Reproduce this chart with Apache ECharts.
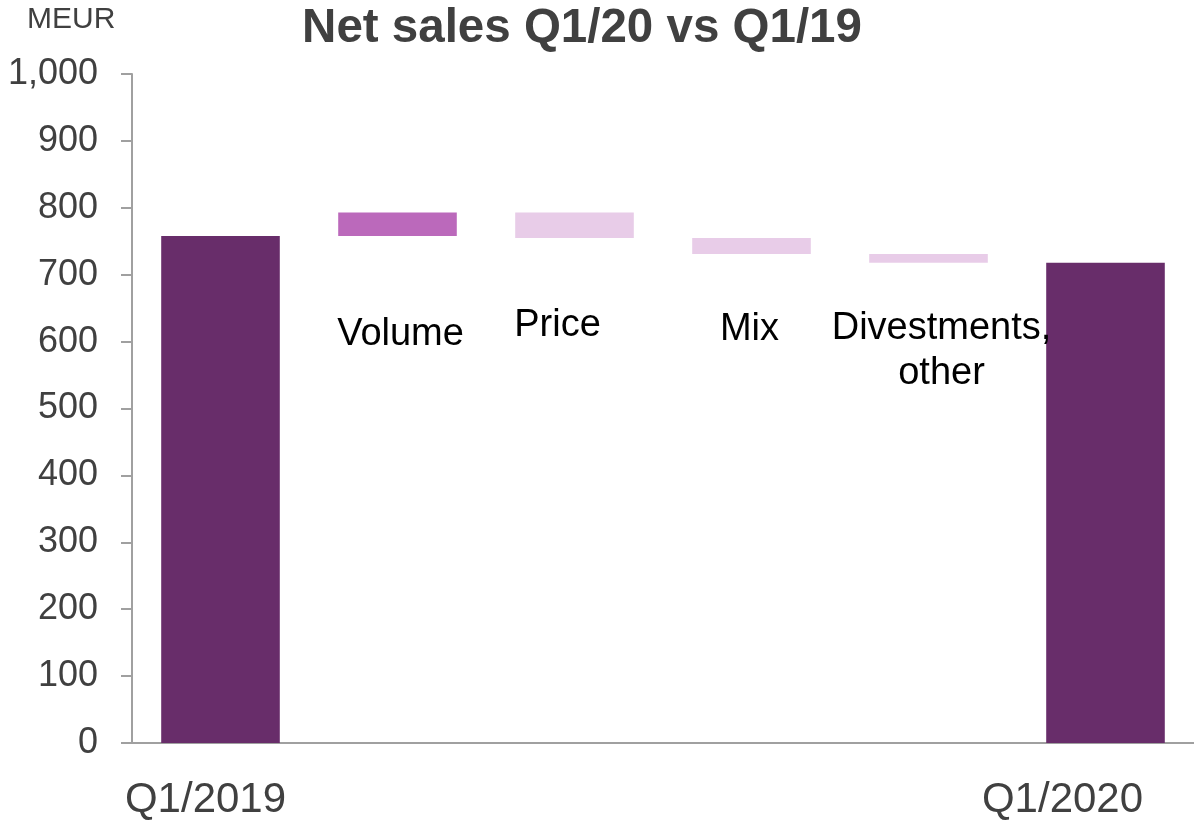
<!DOCTYPE html>
<html>
<head>
<meta charset="utf-8">
<script src="https://cdn.jsdelivr.net/npm/echarts@6/dist/echarts.min.js"></script>
<style>
html,body{margin:0;padding:0;background:#fff;}
#chart{width:1194px;height:821px;}
</style>
</head>
<body>
<div id="chart"></div>
<script>
// ---- data ----
const categories = ['Q1/2019', 'Volume', 'Price', 'Mix', 'Divestments,\nother', 'Q1/2020'];
const startValue = 758;
const changes = [35, -38, -24, -13];   // Volume, Price, Mix, Divestments/other
const endValue = 718;
const yMin = 0, yMax = 1000, yInterval = 100;

// ---- layout / style (not data) ----
const FONT = "'Liberation Sans', Arial, sans-serif";
const colTotal = '#682d6a', colUp = '#bb69bb', colDown = '#e8cce8';
const labelOffsets = [null, [3, 76], [-17, 65], [-2, 53], [13, 43], null];

// build waterfall stack
const base = [0], heights = [startValue], colors = [colTotal];
let running = startValue;
changes.forEach(c => {
  if (c >= 0) { base.push(running); heights.push(c); colors.push(colUp); }
  else { base.push(running + c); heights.push(-c); colors.push(colDown); }
  running += c;
});
base.push(0); heights.push(endValue); colors.push(colTotal);

const visibleData = heights.map((v, i) => {
  const item = { value: v, itemStyle: { color: colors[i] } };
  if (labelOffsets[i]) {
    item.label = {
      show: true,
      position: 'bottom',
      distance: 0,
      verticalAlign: 'top',
      align: 'center',
      offset: labelOffsets[i],
      formatter: categories[i],
      fontSize: 38,
      lineHeight: 45,
      color: '#000',
      fontFamily: FONT
    };
  }
  return item;
});

const chart = echarts.init(document.getElementById('chart'), null, { renderer: 'canvas' });
chart.setOption({
  backgroundColor: '#fff',
  animation: false,
  title: [
    { text: 'Net sales Q1/20 vs Q1/19', left: 582, top: 5, textAlign: 'center', padding: 0,
      textStyle: { fontSize: 47.5, fontWeight: 'bold', color: '#404040', fontFamily: FONT } },
    { text: 'MEUR', left: 27, top: 5, padding: 0,
      textStyle: { fontSize: 30, fontWeight: 'normal', color: '#404040', fontFamily: FONT } }
  ],
  grid: { left: 132, width: 1064, top: 74, bottom: 77, containLabel: false },
  xAxis: {
    type: 'category',
    data: categories,
    axisLine: { show: true, lineStyle: { color: '#a0a0a0', width: 2 } },
    axisTick: { show: false },
    axisLabel: {
      interval: 0,
      margin: 36,
      fontFamily: FONT,
      fontSize: 42,
      color: '#404040',
      formatter: v => v === categories[0] ? '{a|' + v + '}' : (v === categories[categories.length - 1] ? '{b|' + v + '}' : ''),
      rich: {
        a: { fontSize: 42, color: '#404040', fontFamily: FONT, padding: [0, 30, 0, 0] },
        b: { fontSize: 42, color: '#404040', fontFamily: FONT, padding: [0, 86, 0, 0] }
      }
    }
  },
  yAxis: {
    type: 'value',
    min: yMin, max: yMax, interval: yInterval,
    axisLine: { show: true, lineStyle: { color: '#a0a0a0', width: 2 } },
    axisTick: { show: true, length: 11, lineStyle: { color: '#a0a0a0', width: 2 } },
    splitLine: { show: false },
    axisLabel: {
      margin: 34,
      fontFamily: FONT,
      fontSize: 36,
      color: '#404040',
      formatter: v => v.toLocaleString('en-US')
    }
  },
  series: [
    { type: 'bar', stack: 'w', data: base, itemStyle: { color: 'transparent' },
      barCategoryGap: '33%', silent: true },
    { type: 'bar', stack: 'w', data: visibleData, barCategoryGap: '33%' }
  ]
});
</script>
</body>
</html>
